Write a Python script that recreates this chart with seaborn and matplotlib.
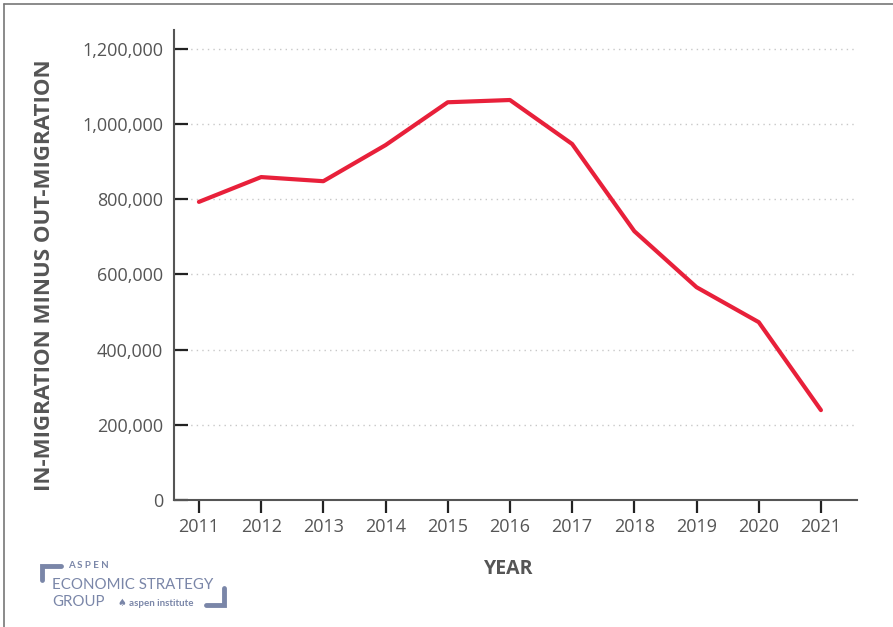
import numpy as np
import pandas as pd
import matplotlib.pyplot as plt
import matplotlib.lines as mlines
import seaborn as sns
from matplotlib.ticker import FuncFormatter

# net domestic migration per year
years = [2011, 2012, 2013, 2014, 2015, 2016, 2017, 2018, 2019, 2020, 2021]
net_migration = [793000, 859000, 848000, 944000, 1058000, 1064000, 947000, 715000, 566000, 473000, 239000]
y_ticks = [0, 200000, 400000, 600000, 800000, 1000000, 1200000]

df = pd.DataFrame({'year': years, 'net': net_migration})

sns.set_theme(style='white')
plt.rcParams['font.family'] = ['Open Sans', 'DejaVu Sans']

fig = plt.figure(figsize=(8.93, 6.27), dpi=100)
ax = fig.add_axes([0.1949, 0.2026, 0.7648, 0.7494])

sns.lineplot(data=df, x='year', y='net', color='#e8203a', linewidth=3, ax=ax)

ax.set_xlim(2010.6, 2021.58)
ax.set_ylim(0, 1250000)
ax.set_xticks(years)
ax.set_yticks(y_ticks)
ax.yaxis.set_major_formatter(FuncFormatter(lambda v, p: f'{int(v):,}'))

for s in ['top', 'right']:
    ax.spines[s].set_visible(False)
for s in ['left', 'bottom']:
    ax.spines[s].set_color('#555555')
    ax.spines[s].set_linewidth(1.5)

ax.tick_params(axis='x', direction='out', length=9, width=1.6, color='#222222',
               labelsize=13, labelcolor='#555555', pad=4, bottom=True)
ax.tick_params(axis='y', direction='in', length=10, width=1.6, color='#222222',
               labelsize=13, labelcolor='#555555', pad=8, left=True)

ax.grid(axis='y', linestyle=(0, (1, 3)), color='#c8c8c8', linewidth=1)
ax.grid(axis='x', visible=False)

ax.set_xlabel('YEAR', fontsize=14, fontweight='bold', color='#555555')
ax.xaxis.set_label_coords(0.49, -0.125)
ax.set_ylabel('IN-MIGRATION MINUS OUT-MIGRATION', fontsize=16, fontweight='bold',
              color='#555555')
ax.yaxis.set_label_coords(-0.174, 0.479)

# frame along the top and left edge
fig.add_artist(mlines.Line2D([0.005, 1], [0.994, 0.994], color='#777777', lw=1.2))
fig.add_artist(mlines.Line2D([0.005, 0.005], [0, 0.994], color='#777777', lw=1.2))

# logo
logo_c = '#7a86a8'
fig.text(0.076, 0.094, 'A S P E N', fontsize=7, fontweight='bold', color=logo_c, family='Lato')
fig.text(0.058, 0.060, 'ECONOMIC STRATEGY', fontsize=10.8, color=logo_c, family='Lato')
fig.text(0.058, 0.033, 'GROUP', fontsize=10.8, color=logo_c, family='Lato')
fig.text(0.132, 0.033, '\u2660 aspen institute', fontsize=7, fontweight='bold', color=logo_c,
         family=['Lato', 'DejaVu Sans'])
fig.add_artist(mlines.Line2D([0.047, 0.047, 0.068], [0.075, 0.097, 0.097], color=logo_c, lw=3.5,
                             solid_joinstyle='miter'))
fig.add_artist(mlines.Line2D([0.231, 0.251, 0.251], [0.035, 0.035, 0.062], color=logo_c, lw=3.5,
                             solid_joinstyle='miter'))

fig.savefig('out.png', dpi=100)
